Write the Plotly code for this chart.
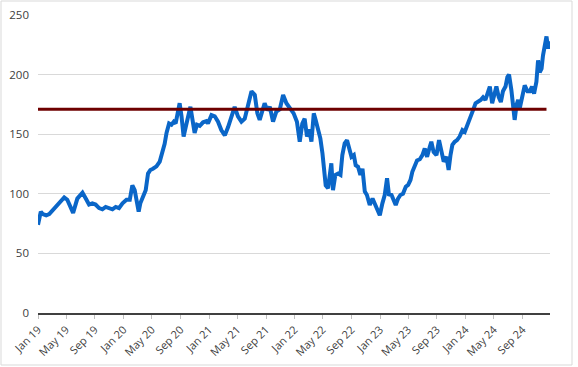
import pandas as pd
import plotly.graph_objects as go

# ---- data ----
start_date = "2019-01-01"
# days after start_date for each sampled price
day_offsets = [
    0, 5, 12, 20, 35, 48, 70, 91, 112, 125, 140, 150, 168, 190, 204, 218, 232, 246, 261, 275,
    289, 303, 318, 332, 346, 361,
    378, 392, 403, 413, 420, 430, 437, 449, 460, 470, 480, 491, 506, 520, 531, 541, 549, 560,
    570, 580, 588, 596, 605, 613, 622, 631, 641, 651, 660, 669, 679, 691, 705, 719,
    726, 741, 755, 769, 783, 798, 812, 826, 840, 854, 869, 883, 897, 912, 926, 937, 947, 957,
    968, 980, 990, 1004, 1018, 1033, 1047, 1061, 1075,
    1092, 1106, 1118, 1129, 1139, 1149, 1158, 1168, 1178, 1186, 1196, 1206, 1215, 1222, 1229,
    1239, 1246, 1253, 1260, 1270, 1282, 1292, 1300, 1310, 1320, 1329, 1339, 1349, 1357, 1367,
    1377, 1386, 1396, 1405, 1417, 1429, 1438, 1448, 1460,
    1471, 1481, 1491, 1499, 1510, 1519, 1528, 1538, 1548, 1559, 1571, 1581, 1591, 1599, 1609,
    1619, 1631, 1642, 1652, 1662, 1673, 1680, 1690, 1702, 1713, 1723, 1733, 1745, 1754, 1762,
    1770, 1780, 1790, 1801, 1813, 1823,
    1837, 1848, 1858, 1869, 1880, 1891, 1901, 1911, 1920, 1930, 1940, 1948, 1958, 1968, 1977,
    1986, 1997, 2005, 2012, 2022, 2029, 2036, 2044, 2051, 2058, 2068, 2079, 2091, 2101, 2110,
    2119, 2129, 2136, 2143, 2151, 2157, 2165, 2172, 2179, 2187,
]
prices = [
    74, 80, 85, 83, 82, 83, 88, 92, 97, 95, 89, 84, 96, 101, 96, 91, 92, 91, 88, 87,
    89, 88, 87, 89, 88, 92,
    95, 95, 107, 103, 95, 85, 92, 97.6, 103, 117, 120, 121, 123, 127, 134, 142, 151, 159,
    158, 160.5, 159, 169, 176, 165, 148, 156, 163, 173, 162, 151, 158, 157, 160, 161,
    159, 166, 165, 160.5, 153.5, 149, 156, 165, 173, 165, 160.5, 163, 174.5, 186, 183, 167.5, 162, 169,
    176, 170, 173, 160.5, 169, 171, 183, 176, 172,
    167.5, 160.5, 143.7, 159, 163, 148, 154, 143.7, 167.5, 162, 155, 146.5, 134, 115.8, 107,
    104.6, 118.5, 125.6, 103, 115.8, 117, 115.8, 132.5, 142.3, 145, 138, 131, 132.5, 124, 122.7,
    115.8, 121, 101.8, 99, 90.6, 96, 92, 87.8, 82,
    92, 99, 113, 99.5, 99, 95, 90.6, 96, 99, 100, 106, 107.5, 111.6, 118.5, 124,
    128, 129, 132.5, 138, 131, 139, 143.7, 135, 132.5, 145, 135, 127, 131, 120, 132.5,
    141, 143.7, 145, 148, 153.5, 152,
    159, 163, 170, 176, 177, 178.7, 181, 178.7, 184, 190, 176, 182, 190, 181, 177,
    186, 190, 198, 200, 187, 174.5, 162, 174.5, 178.7, 172, 179.5, 191, 186, 186, 190,
    184, 194, 212, 202, 205, 216, 225, 232, 222, 228,
]
ref_dates = ["2019-01-01", "2024-12-12"]
ref_level = 171
y_ticks = [0, 50, 100, 150, 200, 250]

dates = pd.to_datetime(start_date) + pd.to_timedelta(day_offsets, unit="D")

W, H = 578, 367
ML, MR, MT, MB = 38, 28, 15, 54
PW, PH = W - ML - MR, H - MT - MB

fig = go.Figure()
fig.add_trace(go.Scatter(
    x=dates, y=prices, mode="lines",
    line=dict(color="#0A66C8", width=4), hoverinfo="skip", showlegend=False,
))
fig.add_trace(go.Scatter(
    x=pd.to_datetime(ref_dates), y=[ref_level] * len(ref_dates), mode="lines",
    line=dict(color="#6E0000", width=3), hoverinfo="skip", showlegend=False,
))

fig.update_layout(
    width=W, height=H,
    margin=dict(l=ML, r=MR, t=MT, b=MB, autoexpand=False),
    paper_bgcolor="white", plot_bgcolor="white",
    font=dict(family="Open Sans, Liberation Sans, sans-serif", color="#595959", size=11),
    showlegend=False,
    xaxis=dict(
        type="date", automargin=False,
        range=["2019-01-01", "2024-12-27"],
        tick0="2019-01-01", dtick="M4", tickformat="%b %y",
        tickangle=-45, ticks="outside", ticklen=4, tickcolor="#BFBFBF",
        showgrid=False, zeroline=False,
        showline=True, linecolor="#404040", linewidth=2,
        tickfont=dict(size=11, color="#404040"),
    ),
    yaxis=dict(
        range=[0, 250], tickvals=y_ticks, automargin=False,
        showgrid=True, gridcolor="#D9D9D9", gridwidth=1,
        zeroline=False, showline=False, ticks="",
        ticklabelstandoff=8,
        tickfont=dict(size=11.5, color="#404040"),
    ),
    shapes=[dict(
        type="rect", xref="paper", yref="paper",
        x0=(1 - ML) / PW, x1=(572 - ML) / PW,
        y0=-(MB - 2) / PH, y1=1 + (MT - 1) / PH,
        line=dict(color="#D9D9D9", width=1), fillcolor="rgba(0,0,0,0)", layer="below",
    )],
)

fig.write_html(
    "out.html",
    config={"displayModeBar": False, "staticPlot": True},
    post_script="document.body.style.margin='0';document.body.style.overflow='hidden';",
)
